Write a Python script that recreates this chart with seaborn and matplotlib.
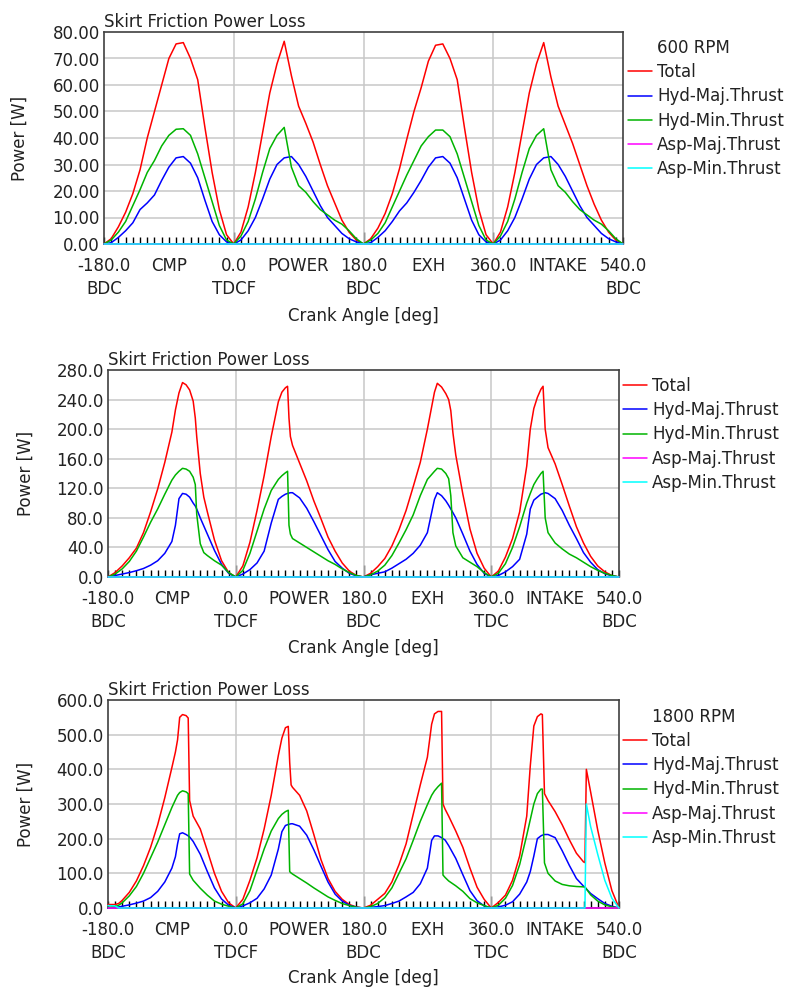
import matplotlib
matplotlib.use("Agg")
import matplotlib.pyplot as plt
from matplotlib.lines import Line2D
from matplotlib.ticker import MultipleLocator, FormatStrFormatter
import seaborn as sns

sns.set_theme(style="white")
plt.rcParams["font.family"] = ["DejaVu Sans"]
plt.rcParams["font.size"] = 12

# ---------------------------------------------------------------- labels
series_names = ["Total", "Hyd-Maj.Thrust", "Hyd-Min.Thrust",
                "Asp-Maj.Thrust", "Asp-Min.Thrust"]
series_colors = ["#ff0000", "#0000ff", "#00b400", "#ff00ff", "#00ffff"]

xtick_pos = [-180, -90, 0, 90, 180, 270, 360, 450, 540]
xtick_labels = ["-180.0\nBDC", "CMP", "0.0\nTDCF", "POWER", "180.0\nBDC",
                "EXH", "360.0\nTDC", "INTAKE", "540.0\nBDC"]

# ---------------------------------------------------------------- 600 RPM
angle_600 = [-180, -170, -160, -150, -140, -130, -120, -110, -100, -90,
             -80, -70, -60, -50, -40, -30, -20, -10,
             0, 10, 20, 30, 40, 50, 60, 70, 80, 90,
             100, 110, 120, 130, 140, 150, 160, 170,
             180, 190, 200, 210, 220, 230, 240, 250, 260, 270,
             280, 290, 300, 310, 320, 330, 340, 350,
             360, 370, 380, 390, 400, 410, 420, 430, 440, 450,
             460, 470, 480, 490, 500, 510, 520, 530, 540]
total_600 = [0, 2, 6.5, 12, 19, 28, 40, 50, 60, 70,
             75.5, 76, 70, 62, 44, 27, 13, 3.5,
             0, 4.5, 14, 27, 42, 57, 68, 76.5, 63.5, 52,
             45.5, 38.5, 30, 22, 15.5, 9, 4.5, 1.5,
             0, 2, 6, 11.5, 19, 28.5, 39.5, 50, 59, 69,
             75, 75.5, 70, 62, 44, 27, 13, 3.5,
             0, 4.5, 14, 27, 42, 57, 68, 76, 63, 52,
             45, 38, 30, 22, 15, 9, 4.5, 1.5, 0]
hyd_maj_600 = [0, 0.5, 2.5, 5, 8, 13, 15.5, 18.5, 24, 29,
               32.5, 33, 30.5, 25, 16.5, 8.5, 3.5, 0.8,
               0, 1.5, 5, 10, 17, 24.5, 30, 32.5, 33, 30,
               25.5, 20, 14.5, 10, 7, 4, 2, 0.8,
               0, 0.5, 2.5, 5, 8.5, 12.5, 15.5, 19.5, 24, 29,
               32.5, 33, 30.5, 25, 17, 9, 3.5, 0.8,
               0, 1.5, 5, 10, 17, 24.5, 30, 32.5, 33, 30,
               25.5, 20, 14.5, 10, 7, 4, 2, 0.8, 0]
hyd_min_600 = [0, 1.5, 4.5, 8.5, 14.5, 20.5, 27, 31.5, 37, 41,
               43.3, 43.5, 41, 34, 25, 16, 7, 1.5,
               0, 3, 8.5, 17, 27, 36, 41, 44, 29, 22,
               19.5, 16, 13, 11, 9, 7.5, 5, 2,
               0, 1.5, 4, 8, 14, 20, 26, 31.5, 37, 40.5,
               43, 43, 40.5, 34, 25, 16, 7, 1.5,
               0, 3, 8.5, 17, 27, 36, 41, 43.5, 28, 22,
               19.5, 16, 13, 11, 9, 7.5, 5, 2, 0]
asp_600 = [0, 0, 0, 0, 0, 0, 0, 0, 0, 0,
           0, 0, 0, 0, 0, 0, 0, 0,
           0, 0, 0, 0, 0, 0, 0, 0, 0, 0,
           0, 0, 0, 0, 0, 0, 0, 0,
           0, 0, 0, 0, 0, 0, 0, 0, 0, 0,
           0, 0, 0, 0, 0, 0, 0, 0,
           0, 0, 0, 0, 0, 0, 0, 0, 0, 0,
           0, 0, 0, 0, 0, 0, 0, 0, 0]

# ---------------------------------------------------------------- mid speed
angle_mid = [-180, -170, -160, -150, -140, -130, -120, -110, -100, -90,
             -85, -80, -75, -70, -65, -60, -57, -55, -50, -45, -40, -30, -20, -10,
             0, 10, 20, 30, 40, 50, 60, 65, 70, 73, 75,
             77, 80, 90, 100, 110, 120, 130, 140, 150, 160, 170,
             180, 190, 200, 210, 220, 230, 240, 250, 260, 270, 280,
             284, 290, 296, 300, 303, 306, 310, 320, 330, 340, 350,
             360, 370, 380, 390, 400, 410, 415, 420, 425, 430, 433, 436,
             440, 450, 460, 470, 480, 490, 500, 510, 520, 530, 540]
total_mid = [0, 6, 15, 26, 39, 60, 88, 119, 155, 196,
             226, 249, 263, 260, 253, 238, 215, 190, 140, 108, 88, 50, 22, 6,
             0, 15, 47, 90, 137, 190, 237, 250, 256, 258, 215,
             190, 178, 154, 130, 103, 79, 54, 35, 19, 8, 2,
             0, 5, 14, 25, 42, 64, 90, 122, 155, 200, 250,
             262, 257, 248, 240, 225, 195, 165, 112, 65, 32, 12,
             0, 8, 27, 52, 88, 150, 200, 228, 243, 254, 258, 200,
             175, 153, 125, 96, 68, 46, 28, 15, 7, 2, 0]
hyd_maj_mid = [0, 2, 4, 6, 8.5, 11.5, 16, 22, 32, 48,
               70, 106, 113, 112, 108, 100, 96, 92, 80, 69, 58, 36, 17, 5,
               0, 4, 10, 19, 35, 73, 105, 109, 112, 113, 113.5,
               114, 114, 107, 93, 75, 56, 37, 21, 12, 5, 1.5,
               0, 3, 5, 7, 12, 18, 24, 32, 43, 60, 105,
               114, 110, 103, 97, 92, 87, 80, 58, 35, 17, 5,
               0, 2, 7, 14, 24, 58, 92, 104, 108, 112, 113, 114,
               113, 106, 90, 70, 52, 33, 20, 10, 4.5, 1.5, 0]
hyd_min_mid = [0, 4, 11, 21, 35, 54, 74, 92, 112, 131,
               138, 143, 147, 146, 143, 135, 125, 85, 45, 33, 29, 22, 16, 6,
               0, 9, 32, 62, 92, 117, 132, 137, 141, 143, 70,
               58, 52, 46, 40, 34, 28, 22, 17, 11, 6, 2,
               0, 3, 8, 16, 29, 46, 64, 84, 110, 132, 143,
               147, 146, 140, 133, 110, 60, 42, 26, 20, 14, 6,
               0, 5, 18, 40, 68, 100, 113, 125, 133, 140, 143, 80,
               60, 46, 38, 31, 26, 20, 14, 9, 5, 2, 0]
asp_mid = [0, 0, 0, 0, 0, 0, 0, 0, 0, 0,
           0, 0, 0, 0, 0, 0, 0, 0, 0, 0, 0, 0, 0, 0,
           0, 0, 0, 0, 0, 0, 0, 0, 0, 0, 0,
           0, 0, 0, 0, 0, 0, 0, 0, 0, 0, 0,
           0, 0, 0, 0, 0, 0, 0, 0, 0, 0, 0,
           0, 0, 0, 0, 0, 0, 0, 0, 0, 0, 0,
           0, 0, 0, 0, 0, 0, 0, 0, 0, 0, 0, 0,
           0, 0, 0, 0, 0, 0, 0, 0, 0, 0, 0]

# ---------------------------------------------------------------- 1800 RPM
angle_1800 = [-180, -170, -165, -160, -150, -140, -130, -120, -110, -100,
              -90, -85, -82, -79, -75, -70, -67, -65, -60, -50, -40, -30, -20, -10,
              0, 10, 20, 30, 40, 50, 60, 65, 70, 74, 76,
              78, 80, 90, 100, 110, 120, 130, 140, 150, 160, 170,
              180, 190, 200, 210, 220, 230, 240, 250, 260, 270, 276,
              280, 285, 290, 292, 295, 300, 310, 320, 330, 340, 350,
              360, 370, 380, 390, 400, 410, 415, 420, 425, 430, 432, 435,
              440, 450, 460, 470, 480, 490, 492, 494, 500, 510, 520, 530, 540]
total_1800 = [10, 10, 13, 22, 45, 78, 122, 175, 240, 318,
              405, 450, 485, 550, 558, 555, 548, 310, 265, 228, 165, 100, 48, 15,
              0, 25, 80, 145, 228, 325, 440, 490, 520, 524, 420,
              355, 348, 325, 280, 212, 140, 85, 48, 25, 10, 3,
              0, 8, 25, 42, 75, 125, 185, 270, 355, 435, 530,
              560, 567, 567, 300, 285, 265, 222, 175, 115, 60, 25,
              0, 16, 37, 80, 150, 265, 410, 525, 552, 560, 558, 330,
              310, 278, 240, 197, 158, 133, 131, 400, 335, 225, 130, 50, 0]
hyd_maj_1800 = [0, 2, 3, 5, 9, 14, 20, 30, 48, 75,
                115, 148, 185, 214, 217, 212, 208, 205, 192, 155, 105, 58, 26, 8,
                0, 6, 15, 28, 55, 95, 170, 220, 238, 241, 242,
                243, 243, 236, 210, 168, 121, 75, 40, 20, 8, 2,
                0, 2, 4, 7, 13, 20, 32, 45, 70, 115, 195,
                208, 208, 203, 200, 196, 180, 143, 96, 50, 21, 6,
                0, 3, 8, 18, 40, 75, 105, 150, 200, 208, 210, 212,
                212, 203, 165, 123, 85, 63, 60, 55, 42, 27, 13, 5, 0]
hyd_min_1800 = [2, 4, 8, 15, 35, 62, 100, 145, 190, 240,
                290, 312, 325, 333, 338, 335, 330, 98, 80, 57, 37, 20, 11, 5,
                0, 12, 50, 110, 170, 222, 258, 270, 278, 282, 105,
                101, 98, 85, 72, 58, 45, 32, 22, 13, 7, 2,
                0, 4, 13, 30, 58, 100, 142, 195, 250, 298, 325,
                338, 350, 360, 95, 88, 78, 64, 48, 27, 15, 7,
                0, 8, 28, 65, 125, 210, 255, 300, 330, 343, 343, 130,
                100, 78, 68, 64, 62, 61, 60, 55, 38, 20, 9, 3, 0]
asp_maj_1800 = [0, 0, 0, 0, 0, 0, 0, 0, 0, 0,
                0, 0, 0, 0, 0, 0, 0, 0, 0, 0, 0, 0, 0, 0,
                0, 0, 0, 0, 0, 0, 0, 0, 0, 0, 0,
                0, 0, 0, 0, 0, 0, 0, 0, 0, 0, 0,
                0, 0, 0, 0, 0, 0, 0, 0, 0, 0, 0,
                0, 0, 0, 0, 0, 0, 0, 0, 0, 0, 0,
                0, 0, 0, 0, 0, 0, 0, 0, 0, 0, 0, 0,
                0, 0, 0, 0, 0, 0, 0, 0, 0, 0, 0, 0, 0]
asp_min_1800 = [7, 6, 0, 0, 0, 0, 0, 0, 0, 0,
                0, 0, 0, 0, 0, 0, 0, 0, 0, 0, 0, 0, 0, 0,
                0, 0, 0, 0, 0, 0, 0, 0, 0, 0, 0,
                0, 0, 0, 0, 0, 0, 0, 0, 0, 0, 0,
                0, 0, 0, 0, 0, 0, 0, 0, 0, 0, 0,
                0, 0, 0, 0, 0, 0, 0, 0, 0, 0, 0,
                0, 0, 0, 0, 0, 0, 0, 0, 0, 0, 0, 0,
                0, 0, 0, 0, 0, 0, 0, 300, 235, 155, 80, 28, 0]

W, H = 789, 989
fig = plt.figure(figsize=(W / 100, H / 100), dpi=100)
fig.patch.set_facecolor("white")


def px_rect(left, top, right, bottom):
    return [left / W, 1 - bottom / H, (right - left) / W, (bottom - top) / H]


panels = [
    dict(angle=angle_600,
         series=[total_600, hyd_maj_600, hyd_min_600, asp_600, asp_600],
         ymax=80, ystep=10, fmt="%.2f", rpm="600 RPM",
         rect=px_rect(104, 32, 623, 244), title_y=27, ylabel_x=20,
         xlabel_y=316, legend_x=628, legend_top=39),
    dict(angle=angle_mid,
         series=[total_mid, hyd_maj_mid, hyd_min_mid, asp_mid, asp_mid],
         ymax=280, ystep=40, fmt="%.1f", rpm=None,
         rect=px_rect(108, 370, 619, 577), title_y=365, ylabel_x=26,
         xlabel_y=648, legend_x=623, legend_top=377),
    dict(angle=angle_1800,
         series=[total_1800, hyd_maj_1800, hyd_min_1800, asp_maj_1800,
                 asp_min_1800],
         ymax=600, ystep=100, fmt="%.1f", rpm="1800 RPM",
         rect=px_rect(108, 700, 619, 908), title_y=695, ylabel_x=26,
         xlabel_y=978, legend_x=623, legend_top=708),
]

grid_color = "#c8c8c8"
frame_color = "#404040"

for p in panels:
    ax = fig.add_axes(p["rect"])
    ax.set_facecolor("white")
    for vals in p["series"]:
        assert len(vals) == len(p["angle"])

    for name, color, vals in zip(series_names, series_colors, p["series"]):
        sns.lineplot(x=p["angle"], y=vals, color=color, linewidth=1.1,
                     estimator=None, sort=False, ax=ax, legend=False,
                     zorder=3, clip_on=False)

    ax.set_xlim(-180, 540)
    ax.set_ylim(0, p["ymax"])

    # grid: horizontal at every y tick, vertical at the TDC/BDC marks
    yt = list(range(0, p["ymax"] + 1, p["ystep"]))
    ax.set_yticks(yt)
    ax.yaxis.set_major_formatter(FormatStrFormatter(p["fmt"]))
    ax.grid(False)
    for y in yt[1:-1]:
        ax.axhline(y, color=grid_color, lw=1.1, zorder=1)
    for x in (0, 180, 360):
        ax.axvline(x, color=grid_color, lw=1.1, zorder=1)

    ax.set_xticks(xtick_pos)
    ax.set_xticklabels(xtick_labels)
    ax.xaxis.set_minor_locator(MultipleLocator(10))
    ax.tick_params(axis="x", which="both", direction="in", length=5,
                   width=1, color="black", bottom=True, top=False)
    ax.tick_params(axis="x", which="major", pad=9.5, labelsize=12,
                   labelcolor="#222222")
    ax.tick_params(axis="y", which="both", length=0, pad=3, labelsize=12,
                   labelcolor="#222222")
    for tick, loc in zip(ax.xaxis.get_major_ticks(), xtick_pos):
        if loc in (0, 180, 360):
            tick.tick1line.set_markersize(9)
    for lab in ax.get_xticklabels():
        lab.set_linespacing(1.33)

    for s in ax.spines.values():
        s.set_color(frame_color)
        s.set_linewidth(1.2)
        s.set_visible(True)

    ax.set_xlabel("")
    ax.set_ylabel("")
    left_px = p["rect"][0] * W
    fig.text(left_px / W, 1 - p["title_y"] / H, "Skirt Friction Power Loss",
             ha="left", va="baseline", fontsize=12, color="#222222")
    fig.text(p["ylabel_x"] / W, p["rect"][1] + p["rect"][3] / 2, "Power [W]",
             rotation=90, ha="center", va="center", fontsize=12,
             color="#222222")
    fig.text(363 / W, 1 - p["xlabel_y"] / H, "Crank Angle [deg]",
             ha="center", va="center", fontsize=12, color="#222222")

    handles, labels = [], []
    if p["rpm"]:
        handles.append(Line2D([], [], color="none"))
        labels.append(p["rpm"])
    for name, color in zip(series_names, series_colors):
        handles.append(Line2D([], [], color=color, lw=1.1))
        labels.append(name)
    leg = ax.legend(handles, labels, loc="upper left",
                    bbox_to_anchor=(p["legend_x"] / W, 1 - p["legend_top"] / H),
                    bbox_transform=fig.transFigure, frameon=False,
                    handlelength=1.45, handletextpad=0.3, labelspacing=0.37,
                    borderpad=0, borderaxespad=0, fontsize=12)
    for t in leg.get_texts():
        t.set_color("#222222")

fig.savefig("out.png", dpi=100, facecolor="white")
